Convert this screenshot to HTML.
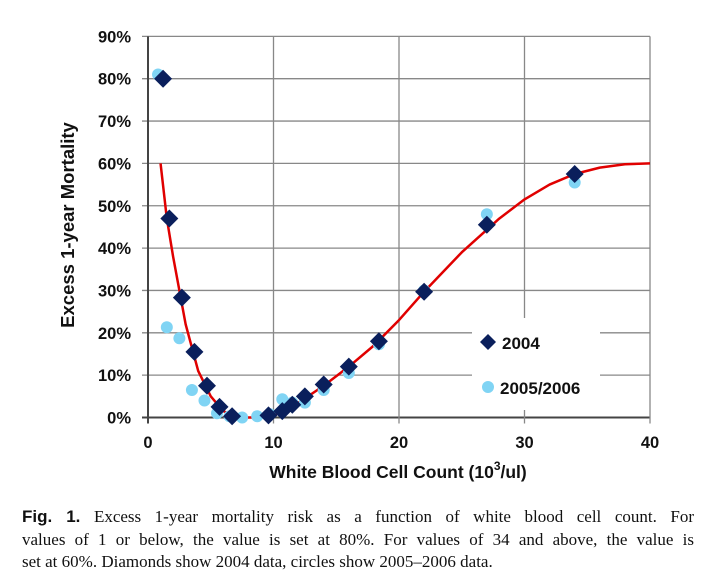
<!DOCTYPE html>
<html><head><meta charset="utf-8"><style>
body{margin:0;background:#fff;width:709px;height:586px;overflow:hidden}
svg text{font-family:"Liberation Sans",Arial,sans-serif;font-weight:bold}
.cap{position:absolute;left:22px;top:506px;width:672px;font-family:"Liberation Serif",serif;font-size:17px;line-height:22.5px;color:#111}
.cap div{white-space:nowrap}
.cap .j{text-align:justify;text-align-last:justify;white-space:normal}
</style></head><body>
<svg id="chart" width="709" height="500" style="position:absolute;left:0;top:0"></svg>
<div class="cap">
<div class="j"><b style="font-family:'Liberation Sans',sans-serif">Fig. 1.</b> Excess 1-year mortality risk as a function of white blood cell count. For</div>
<div class="j">values of 1 or below, the value is set at 80%. For values of 34 and above, the value is</div>
<div>set at 60%. Diamonds show 2004 data, circles show 2005–2006 data.</div>
</div>
<script>
const xTicks=[0,10,20,30,40];
const yTicks=[0,10,20,30,40,50,60,70,80,90];
const d2004X=[1.2,1.7,2.7,3.7,4.7,5.7,6.7,9.6,10.7,11.5,12.5,14,16,18.4,22,27,34];
const d2004Y=[80,47,28.3,15.5,7.5,2.5,0.3,0.5,1.5,3,5,7.8,12,18,29.7,45.5,57.5];
const d0506X=[0.8,1.5,2.5,3.5,4.5,5.5,6.5,7.5,8.7,9.7,10.7,11.5,12.5,14,16,18.4,22,27,34];
const d0506Y=[81,21.3,18.7,6.5,4,1,0.3,0,0.3,0.8,4.3,3.5,3.5,6.5,10.5,17.3,30,48,55.5];
const fitX=[1,1.5,2,3,4,5,6,7,8,9,10,12,14,16,18,20,22,25,28,30,32,34,36,38,40];
const fitY=[60,47,38,22,11,5,1.5,0.2,0,0,0.5,3.5,7.5,12,17,23,29.7,39,47,51.5,55,57.5,59,59.8,60];
const X=v=>148+v*12.55, Y=v=>417.5-v*4.235;
const svg=document.getElementById('chart');
const NS='http://www.w3.org/2000/svg';
function mk(t,a,p){const e=document.createElementNS(NS,t);for(const k in a)e.setAttribute(k,a[k]);(p||svg).appendChild(e);return e;}
yTicks.forEach(t=>{
 const l=mk('line',{x1:X(0)-6,x2:X(40),y1:Y(t),y2:Y(t),stroke:t==0?'#444':'#888','stroke-width':t==0?2:1.3});
 
 const tx=mk('text',{x:131,y:Y(t)+6,'text-anchor':'end','font-size':16.5,fill:'#111'});tx.textContent=t+'%';
 
});
xTicks.forEach(t=>{
 const l=mk('line',{x1:X(t),x2:X(t),y1:Y(90),y2:Y(0)+6,stroke:t==0?'#444':'#888','stroke-width':t==0?2:1.3});
 
 const tx=mk('text',{x:X(t),y:448,'text-anchor':'middle','font-size':16.5,fill:'#111'});tx.textContent=t;
 
});
const lb=mk('rect',{x:472,y:318,width:128,height:92,fill:'#fff'});

const fit=mk('polyline',{points:fitX.map((v,i)=>X(v)+','+Y(fitY[i])).join(' '),fill:'none',stroke:'#e00000','stroke-width':2.5,'stroke-linejoin':'round'});

d0506X.forEach((v,i)=>{const c=mk('circle',{cx:X(v),cy:Y(d0506Y[i]),r:6,fill:'#80d4f4'});
 });
function dia(x,y,s){return `${x},${y-s} ${x+s},${y} ${x},${y+s} ${x-s},${y}`;}
d2004X.forEach((v,i)=>{const p=mk('polygon',{points:dia(X(v),Y(d2004Y[i]),9),fill:'#0a1f5c'});
 });
const ld=mk('polygon',{points:dia(488,342,8),fill:'#0a1f5c'});
const lt=mk('text',{x:502,y:349,'font-size':17,fill:'#111'});lt.textContent='2004';
const lc=mk('circle',{cx:488,cy:387,r:6,fill:'#80d4f4'});
const lt2=mk('text',{x:500,y:394,'font-size':17,fill:'#111'});lt2.textContent='2005/2006';
const xt=mk('text',{x:398,y:478,'text-anchor':'middle','font-size':17.5,fill:'#111'});
xt.innerHTML='White Blood Cell Count (10<tspan dy="-8" font-size="12">3</tspan><tspan dy="8">/ul)</tspan>';

const yt=mk('text',{x:0,y:0,'text-anchor':'middle','font-size':18.5,fill:'#111',transform:'translate(74,225) rotate(-90)'});
yt.textContent='Excess 1-year Mortality';
</script>
</body></html>
